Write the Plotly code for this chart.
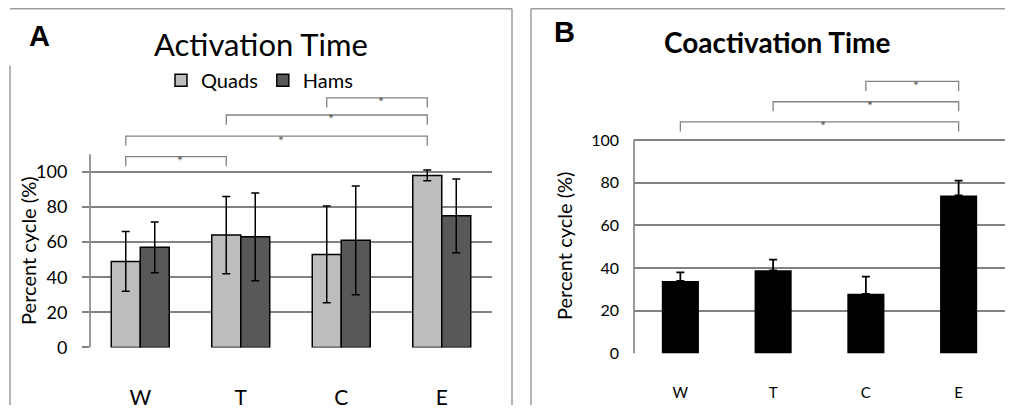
import plotly.graph_objects as go

# ---------------- data ----------------
categories = ["W", "T", "C", "E"]
quads = [49, 64, 53, 98]
quads_err = [17, 22, 27.5, 3]
hams = [57, 63, 61, 75]
hams_err = [14.5, 25, 31, 21]
coact = [34, 39, 28, 74]
coact_err = [4, 5, 8, 7]
y_ticks = [0, 20, 40, 60, 80, 100]

# significance brackets: (from, to), level
sig_a_pairs = [("W", "T"), ("W", "E"), ("T", "E"), ("C", "E")]
sig_a_levels = [108.7, 120.4, 132.4, 142.2]
sig_b_pairs = [("W", "E"), ("T", "E"), ("C", "E")]
sig_b_levels = [108.5, 117.9, 127.4]

# ---------------- layout helpers ----------------
# the page body has an 8px margin; figure is sized so that page == 1013x415
OFF = 8
FW, FH = 1013 - OFF, 415 - OFF
def px(x):
    return (x - OFF) / FW
def py(y):
    return 1 - (y - OFF) / FH

FONT = "Lato, 'Open Sans', sans-serif"
GRID = "#828282"
FRAME = "#9c9c9c"
BARGAP = 0.423

fig = go.Figure()
fig.add_trace(go.Bar(
    x=categories, y=quads, name="Quads", xaxis="x", yaxis="y",
    marker=dict(color="#bdbdbd", line=dict(color="black", width=1.5)),
    error_y=dict(type="data", array=quads_err, color="black", thickness=1.5, width=4),
))
fig.add_trace(go.Bar(
    x=categories, y=hams, name="Hams", xaxis="x", yaxis="y",
    marker=dict(color="#585858", line=dict(color="black", width=1.5)),
    error_y=dict(type="data", array=hams_err, color="black", thickness=1.5, width=4),
))
fig.add_trace(go.Bar(
    x=categories, y=coact, name="Coactivation", xaxis="x2", yaxis="y2",
    showlegend=False, width=0.4,
    marker=dict(color="black", line=dict(color="black", width=0)),
    error_y=dict(type="data", symmetric=False, array=coact_err,
                 arrayminus=[0] * len(coact_err), color="black", thickness=1.8, width=4),
))

shapes = []
annotations = []

def bracket(xref, yref, x0, x1, lev, drop):
    shapes.append(dict(type="path", xref=xref, yref=yref,
                       path=f"M {x0},{lev-drop} L {x0},{lev} L {x1},{lev} L {x1},{lev-drop}",
                       line=dict(color=GRID, width=1.3)))
    annotations.append(dict(x=(x0 + x1) / 2 + 0.04, y=lev, xref=xref, yref=yref, text="*",
                            xanchor="center", yanchor="middle",
                            showarrow=False, font=dict(size=14, color="#555", family=FONT),
                            yshift=-4))

# brackets panel A (connect Quads bars)
qoff = -(1 - BARGAP) / 4
idx = {c: i for i, c in enumerate(categories)}
for (a, b), lev in zip(sig_a_pairs, sig_a_levels):
    bracket("x", "y", idx[a] + qoff, idx[b] + qoff, lev, 5.5)
# brackets panel B
for (a, b), lev in zip(sig_b_pairs, sig_b_levels):
    bracket("x2", "y2", idx[a], idx[b], lev, 4.5)

# y axis lines (only up to 110 / 100)
shapes.append(dict(type="line", xref="x domain", yref="y", x0=0, x1=0, y0=0, y1=110,
                   line=dict(color=GRID, width=1.6)))
shapes.append(dict(type="line", xref="x2 domain", yref="y2", x0=0, x1=0, y0=0, y1=100,
                   line=dict(color=GRID, width=1.6)))

# panel frames
fl = dict(color=FRAME, width=1.5)
shapes += [
    dict(type="line", xref="paper", yref="paper", x0=px(10), x1=px(512), y0=py(8.8), y1=py(8.8), line=fl),
    dict(type="line", xref="paper", yref="paper", x0=px(10), x1=px(10), y0=py(67), y1=py(415), line=fl),
    dict(type="line", xref="paper", yref="paper", x0=px(512), x1=px(512), y0=py(8.8), y1=py(415), line=fl),
    dict(type="line", xref="paper", yref="paper", x0=px(531), x1=px(531), y0=py(8.8), y1=py(415), line=fl),
    dict(type="line", xref="paper", yref="paper", x0=px(531), x1=px(1013), y0=py(8.8), y1=py(8.8), line=fl),
]

def label(x, y, text, size, family=FONT, angle=0):
    annotations.append(dict(x=px(x), y=py(y), xref="paper", yref="paper", text=text,
                            showarrow=False, xanchor="center", yanchor="middle",
                            textangle=angle, font=dict(size=size, color="black", family=family)))

ARIAL = "'Liberation Sans', Arial, sans-serif"
label(39, 37, "<b>A</b>", 29, ARIAL)
label(564, 33, "<b>B</b>", 29, ARIAL)
label(261, 45, "Activation Time", 31)
label(777, 43, "<b>Coactivation Time</b>", 28)
label(28, 257, "Percent cycle (%)", 20, angle=-90)
label(564, 252, "Percent cycle (%)", 20, angle=-90)

fig.update_layout(
    width=FW, height=FH,
    margin=dict(l=0, r=0, t=0, b=0),
    paper_bgcolor="white", plot_bgcolor="white",
    barmode="group", bargap=BARGAP, bargroupgap=0,
    font=dict(family=FONT, color="black"),
    showlegend=True,
    legend=dict(orientation="h", x=px(161), y=py(62), xanchor="left", yanchor="top",
                font=dict(size=20, family=FONT, color="black"), bgcolor="rgba(0,0,0,0)",
                itemwidth=30, tracegroupgap=0),
    xaxis=dict(domain=[px(90), px(492)], type="category", showline=False, showgrid=False,
               ticks="", tickfont=dict(size=21), ticklabelstandoff=36, anchor="y"),
    yaxis=dict(domain=[py(356), py(86)], range=[0, 150], tickvals=y_ticks,
               showgrid=True, gridcolor=GRID, gridwidth=1.7, zeroline=False, showline=False,
               ticks="outside", ticklen=7, tickcolor=GRID, tickwidth=1.7,
               tickfont=dict(size=18), ticklabelstandoff=11, anchor="x"),
    xaxis2=dict(domain=[px(634), px(1005)], type="category", showline=False, showgrid=False,
                ticks="", tickfont=dict(size=15), ticklabelstandoff=28, anchor="y2"),
    yaxis2=dict(domain=[py(362.3), py(66.65)], range=[0, 135], tickvals=y_ticks,
                showgrid=True, gridcolor=GRID, gridwidth=1.7, zeroline=False, showline=False,
                ticks="", tickfont=dict(size=16), ticklabelstandoff=14, anchor="x2"),
    shapes=shapes,
    annotations=annotations,
)

fig.write_html("out.html")
